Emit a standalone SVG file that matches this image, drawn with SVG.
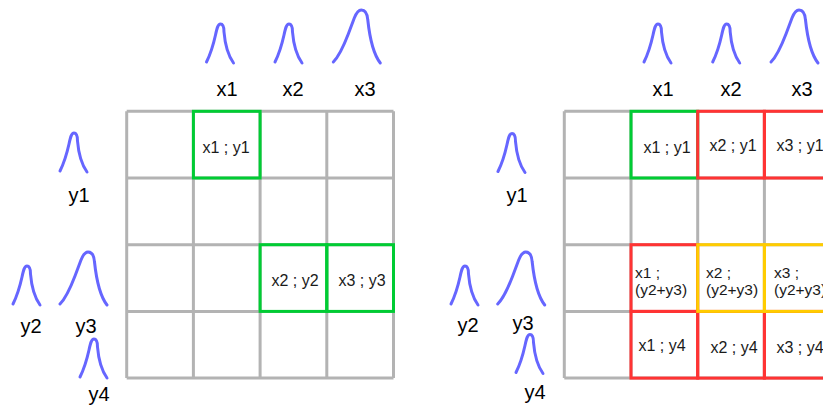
<svg xmlns="http://www.w3.org/2000/svg" width="823" height="406" viewBox="0 0 823 406">
<style>
.bg{fill:#ffffff}
.grid{fill:none;stroke:#b3b3b3;stroke-width:3}
.cell{fill:none;stroke-width:3}
.g{stroke:#00cc33}
.r{stroke:#ff3333}
.yl{stroke:#ffcc00}
.curve{fill:none;stroke:#6666ff;stroke-width:3;stroke-linecap:round;stroke-linejoin:round}
.lab{font-family:"Liberation Sans",Arial,sans-serif;font-size:20px;fill:#000;text-anchor:middle}
.ct{font-family:"Liberation Sans",Arial,sans-serif;font-size:16px;fill:#1a1a1a;text-anchor:middle}
.cl{font-family:"Liberation Sans",Arial,sans-serif;font-size:15.5px;fill:#1a1a1a}
</style>
<defs>
<path id="small" class="curve" d="M0,0 C3,-6 7,-18 9,-27 C10.5,-34 11.5,-38 14,-38 C16.5,-38 17.5,-35 17.5,-30 C18.5,-18 22,-6 27,1"/>
<path id="large" class="curve" d="M0,0 C5,-5 10,-15 15,-28 L21,-44 C23,-49 25,-52 28,-52 C32,-52 34,-49 34.5,-42 C36,-28 40,-8 47,1"/>
</defs>
<rect class="bg" x="0" y="0" width="823" height="406"/>

<g id="left-grid">
<path class="grid" d="M126.7,111.3H393.5M126.7,178H393.5M126.7,244.7H393.5M126.7,311.4H393.5M126.7,378.1H393.5M126.7,111.3V378.1M193.4,111.3V378.1M260.1,111.3V378.1M326.8,111.3V378.1M393.5,111.3V378.1"/>
</g>
<g id="left-cells">
<rect class="cell g" x="193.4" y="111.3" width="66.7" height="66.7"/>
<rect class="cell g" x="260.1" y="244.7" width="66.7" height="66.7"/>
<rect class="cell g" x="326.8" y="244.7" width="66.7" height="66.7"/>
<text class="ct" x="226" y="152.5">x1 ; y1</text>
<text class="ct" x="295" y="286">x2 ; y2</text>
<text class="ct" x="362" y="286">x3 ; y3</text>
</g>
<g id="left-margins">
<use href="#small" x="206.5" y="62"/>
<use href="#small" x="275" y="62"/>
<use href="#large" x="333.3" y="62"/>
<text class="lab" x="227" y="96">x1</text>
<text class="lab" x="293" y="96">x2</text>
<text class="lab" x="365" y="96">x3</text>
<use href="#small" x="60" y="171"/>
<use href="#small" x="13" y="304"/>
<use href="#large" x="60" y="304"/>
<use href="#small" x="80" y="377"/>
<text class="lab" x="79" y="202">y1</text>
<text class="lab" x="31" y="333">y2</text>
<text class="lab" x="86" y="333">y3</text>
<text class="lab" x="99" y="401">y4</text>
</g>

<g id="right-grid">
<path class="grid" d="M564.3,111.3H831.1M564.3,178H831.1M564.3,244.7H831.1M564.3,311.4H831.1M564.3,378.1H831.1M564.3,111.3V378.1M631,111.3V378.1M697.7,111.3V378.1M764.4,111.3V378.1"/>
</g>
<g id="right-cells">
<rect class="cell g" x="631" y="111.3" width="66.7" height="66.7"/>
<rect class="cell r" x="697.7" y="111.3" width="66.7" height="66.7"/>
<rect class="cell r" x="764.4" y="111.3" width="66.7" height="66.7"/>
<rect class="cell r" x="631" y="244.7" width="66.7" height="66.7"/>
<rect class="cell r" x="631" y="311.4" width="66.7" height="66.7"/>
<rect class="cell r" x="697.7" y="311.4" width="66.7" height="66.7"/>
<rect class="cell r" x="764.4" y="311.4" width="66.7" height="66.7"/>
<rect class="cell yl" x="697.7" y="244.7" width="66.7" height="66.7"/>
<rect class="cell yl" x="764.4" y="244.7" width="66.7" height="66.7"/>
<text class="ct" x="667" y="152.5">x1 ; y1</text>
<text class="ct" x="733" y="151">x2 ; y1</text>
<text class="ct" x="800" y="151">x3 ; y1</text>
<text class="cl" x="635" y="277.5">x1 ;</text>
<text class="cl" x="635" y="295">(y2+y3)</text>
<text class="cl" x="706" y="277.5">x2 ;</text>
<text class="cl" x="706" y="295">(y2+y3)</text>
<text class="cl" x="774" y="277.5">x3 ;</text>
<text class="cl" x="774" y="295">(y2+y3)</text>
<text class="ct" x="662" y="350.5">x1 ; y4</text>
<text class="ct" x="734" y="352.5">x2 ; y4</text>
<text class="ct" x="800" y="352.5">x3 ; y4</text>
</g>
<g id="right-margins">
<use href="#small" x="644" y="62"/>
<use href="#small" x="712.7" y="62"/>
<use href="#large" x="771" y="62"/>
<text class="lab" x="663" y="96">x1</text>
<text class="lab" x="731" y="96">x2</text>
<text class="lab" x="802" y="96">x3</text>
<use href="#small" x="498" y="171.5"/>
<use href="#small" x="451" y="304"/>
<use href="#large" x="497.7" y="304"/>
<use href="#small" x="516" y="372.5"/>
<text class="lab" x="517" y="202">y1</text>
<text class="lab" x="468" y="332">y2</text>
<text class="lab" x="523" y="330">y3</text>
<text class="lab" x="535" y="399">y4</text>
</g>
</svg>
